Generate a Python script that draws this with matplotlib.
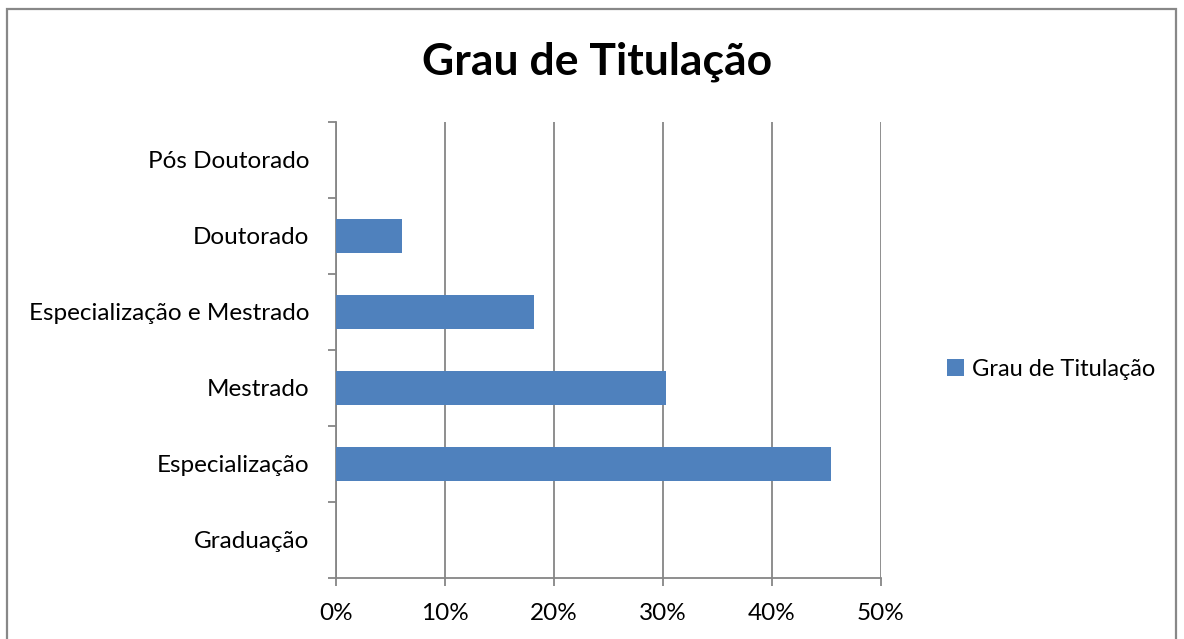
import matplotlib.pyplot as plt
from matplotlib.patches import Rectangle
from matplotlib.ticker import PercentFormatter

plt.rcParams['font.family'] = ['Lato', 'DejaVu Sans']

# dados (ordem de baixo para cima)
categorias = ["Graduação", "Especialização", "Mestrado",
              "Especialização e Mestrado", "Doutorado", "Pós Doutorado"]
valores = [0.0, 45.45, 30.30, 18.18, 6.06, 0.0]
x_ticks = [0, 10, 20, 30, 40, 50]
titulo = "Grau de Titulação"
serie = "Grau de Titulação"

cor_barra = "#4F81BD"
cinza = "#868686"

fig = plt.figure(figsize=(11.84, 6.39), dpi=100)
ax = fig.add_axes([336/1184, 1-578/639, (881-336)/1184, (578-122)/639])

pos = list(range(len(categorias)))
ax.barh(pos, valores, height=0.44, color=cor_barra, label=serie, zorder=3)

ax.set_xlim(0, 50)
ax.set_ylim(-0.5, len(categorias)-0.5)
ax.set_xticks(x_ticks)
ax.xaxis.set_major_formatter(PercentFormatter(decimals=0))
ax.grid(axis='x', color=cinza, lw=1.3, zorder=0)

# marcas entre categorias no eixo y
ax.set_yticks([p - 0.5 for p in pos] + [len(categorias) - 0.5])
ax.set_yticklabels([])
ax.set_yticks(pos, minor=True)
ax.set_yticklabels(categorias, minor=True, fontsize=17.5)
ax.tick_params(axis='y', which='major', length=6, color=cinza, width=1.3)
ax.tick_params(axis='y', which='minor', length=0, pad=19)
ax.tick_params(axis='x', length=6, color=cinza, width=1.3, labelsize=17.5, pad=12)

for s in ['top', 'right']:
    ax.spines[s].set_visible(False)
for s in ['left', 'bottom']:
    ax.spines[s].set_color(cinza)
    ax.spines[s].set_linewidth(1.3)

fig.text(597/1184, 1-62/639, titulo, ha='center', va='center',
         fontsize=32, fontweight='bold')

leg = fig.legend(loc='center left', bbox_to_anchor=(926/1184, 1-369/639),
                 frameon=False, fontsize=17, handlelength=0.7,
                 handleheight=0.7, handletextpad=0.35)

# borda externa do gráfico
fig.patches.append(Rectangle((7/1184, -0.05), (1176-7)/1184, 1.05 - 9/639,
                             transform=fig.transFigure, fill=False,
                             edgecolor='#888888', lw=1.6))

fig.savefig("out.png", dpi=100)
